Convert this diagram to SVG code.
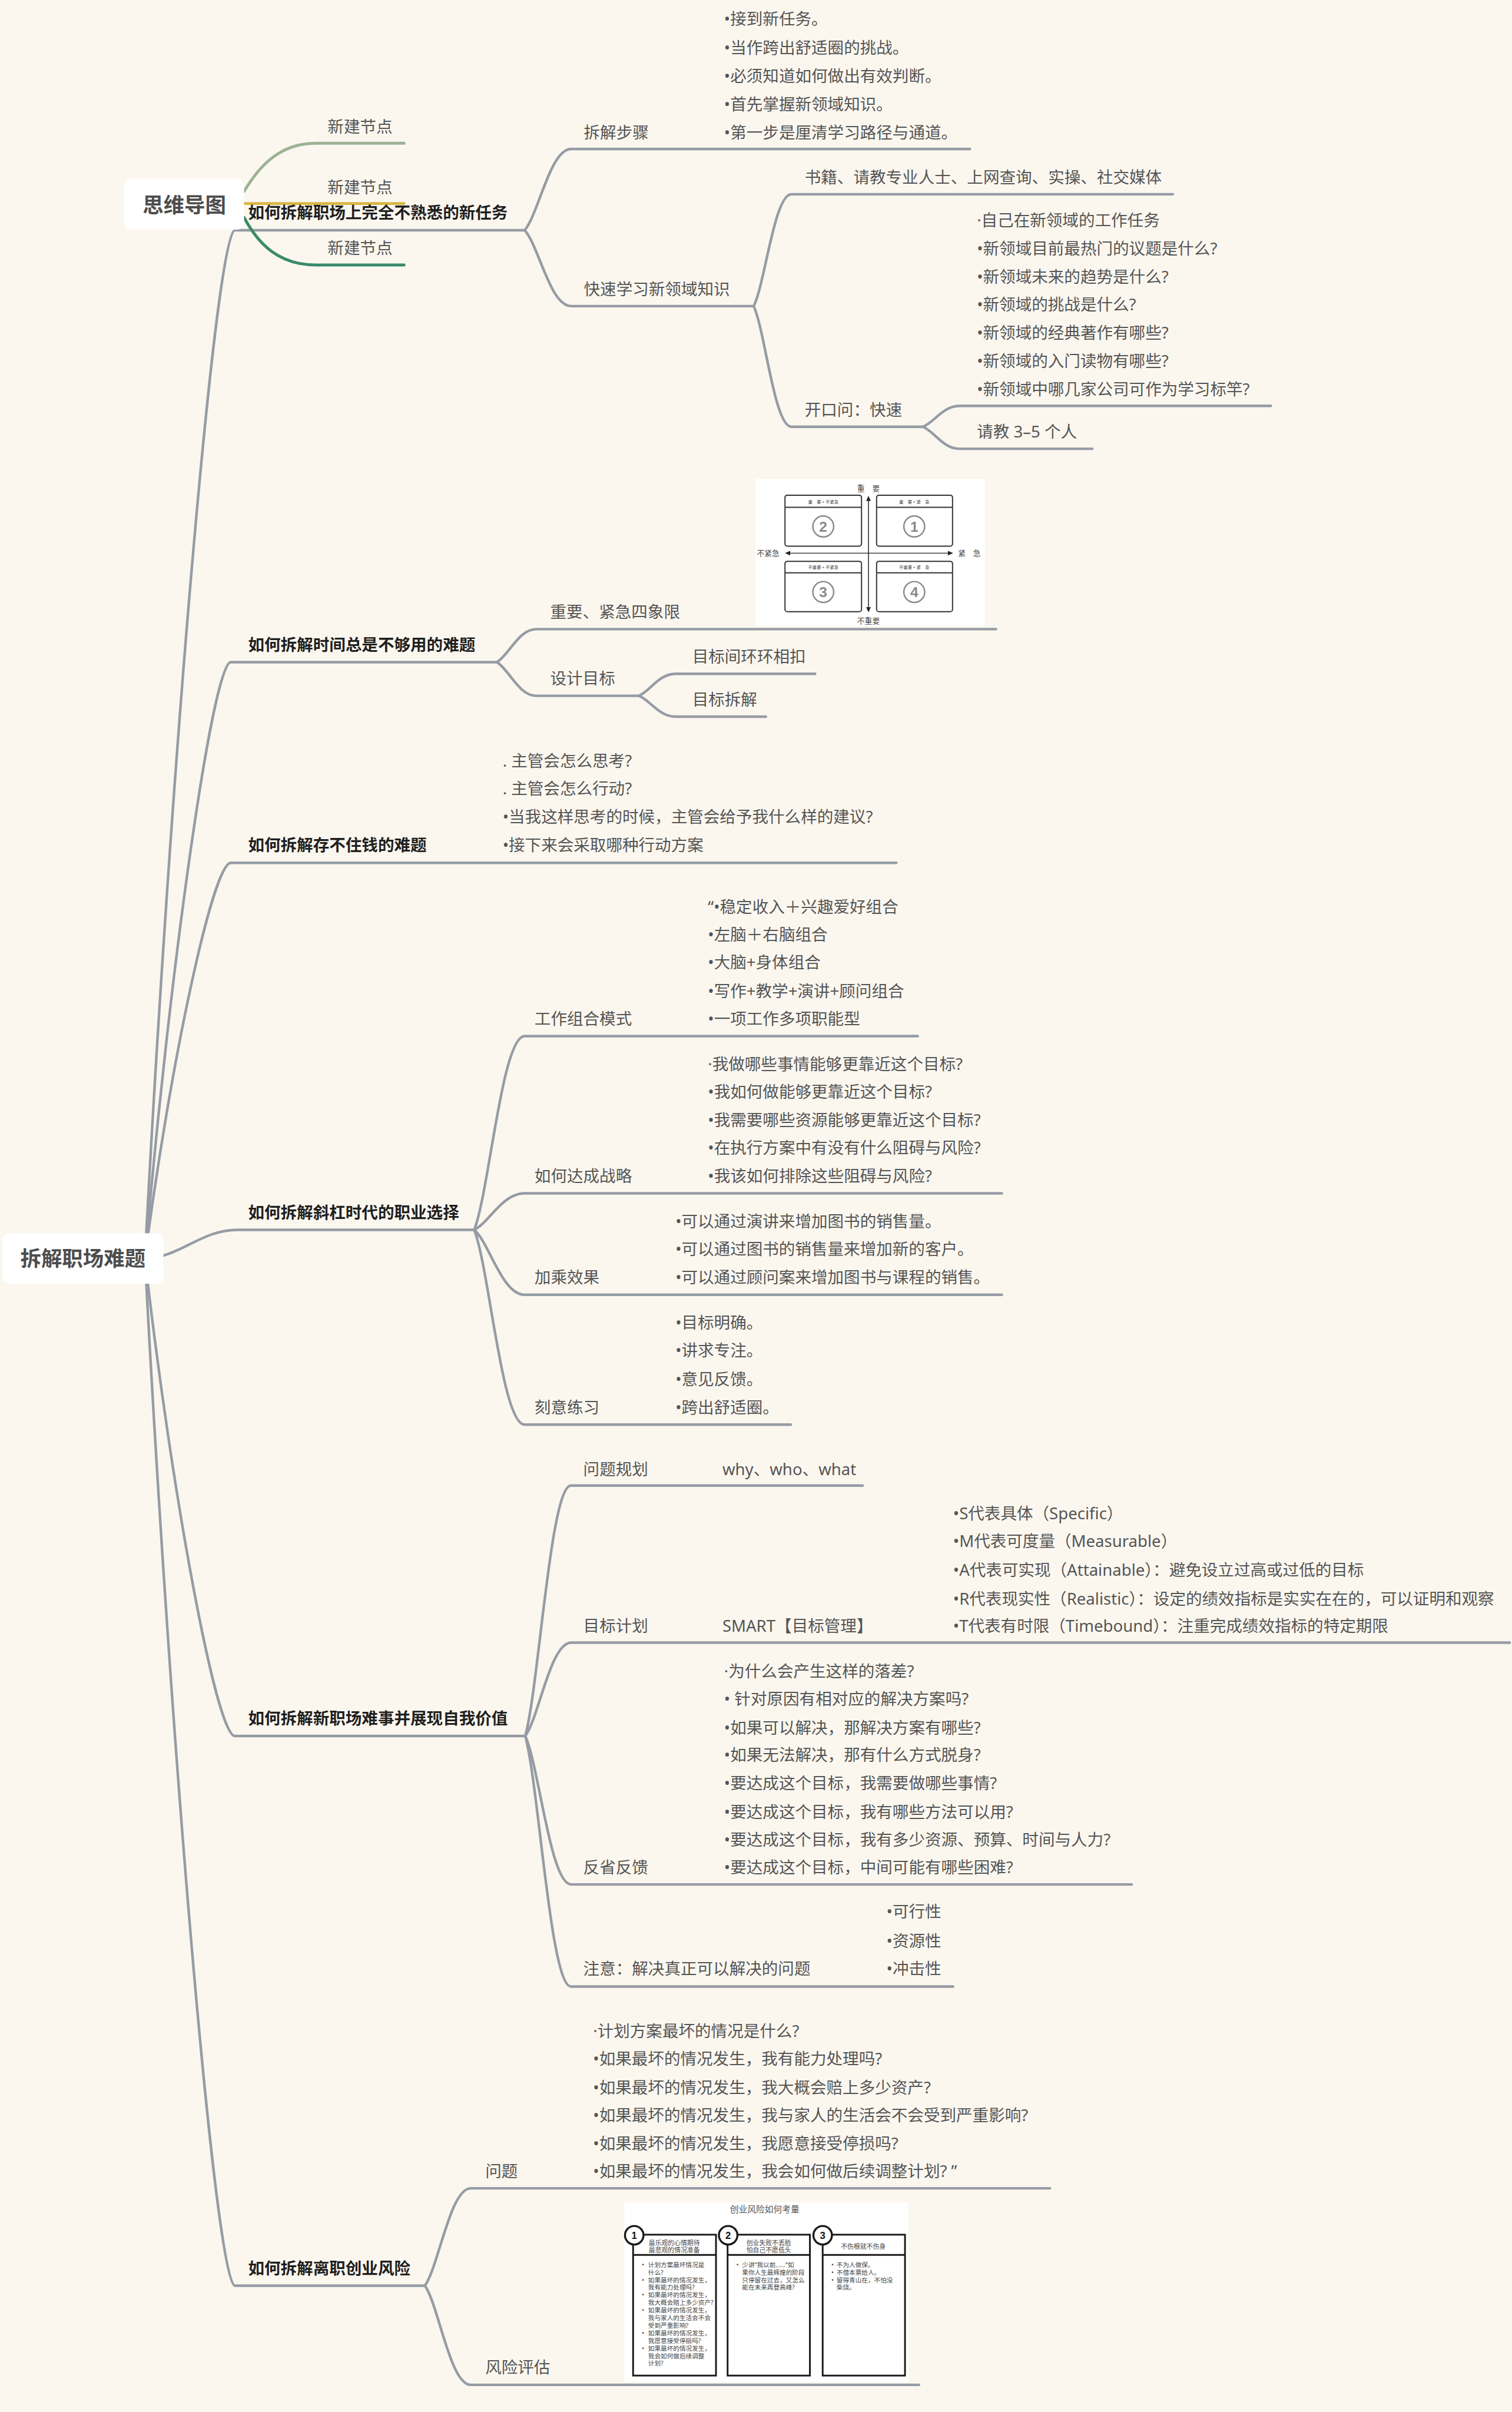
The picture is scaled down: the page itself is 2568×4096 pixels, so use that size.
<svg xmlns="http://www.w3.org/2000/svg" width="2568" height="4096" viewBox="0 0 2568 4096">
<defs>
<style>
.c{fill:none;stroke:#969ca4;stroke-width:4.5;stroke-linecap:round}
.t1{font-family:"Noto Sans","Noto Sans CJK SC",sans-serif;font-size:28px;font-weight:700;fill:#1f1f1f}
.t2{font-family:"Noto Sans","Noto Sans CJK SC",sans-serif;font-size:28px;fill:#555}
.tr{font-family:"Noto Sans","Noto Sans CJK SC",sans-serif;font-size:36px;font-weight:700;fill:#4d4d4d;text-anchor:middle}
.box{fill:#ffffff}
.img{fill:#ffffff}
.qa{font-family:"Noto Sans CJK SC",sans-serif;font-size:13px;fill:#444;text-anchor:middle}
.qh{font-family:"Noto Sans CJK SC",sans-serif;font-size:7.5px;fill:#444;text-anchor:middle}
.qb{fill:none;stroke:#333;stroke-width:2}
.qc{fill:none;stroke:#8a8a8a;stroke-width:2.5}
.qn{font-family:"Liberation Sans",sans-serif;font-size:25px;font-weight:700;fill:#8a8a8a;text-anchor:middle}
.rb{fill:none;stroke:#1a1a1a;stroke-width:3}
.rc{fill:#ffffff;stroke:#1a1a1a;stroke-width:3.5}
.rn{font-family:"Liberation Sans",sans-serif;font-size:17px;font-weight:700;fill:#111;text-anchor:middle}
.rs{font-family:"Noto Sans","Noto Sans CJK SC",sans-serif;font-size:10.8px;fill:#444}
.rh{font-family:"Noto Sans CJK SC",sans-serif;font-size:11px;fill:#444;text-anchor:middle}
.rt{font-family:"Noto Sans CJK SC",sans-serif;font-size:15px;fill:#555;text-anchor:middle}
</style>
</defs>
<rect x="0" y="0" width="2568" height="4096" fill="#fbf7ef"/>
<g transform="scale(0.98466)">

<g id="connectors">
<path class="c" d="M250,2170 C296.5,1283.5 374,397 405,397 L905,397"/>
<path class="c" d="M250,2170 C294,1656 368,1142 398,1142 L857,1142"/>
<path class="c" d="M250,2170 C294,1829 368,1488 398,1488 L1546,1488"/>
<path class="c" d="M250,2170 C310,2170 345,2121 410,2121 L818,2121"/>
<path class="c" d="M250,2170 C296.5,2582 374,2994 405,2994 L906,2994"/>
<path class="c" d="M250,2170 C296.5,3056 374,3942 405,3942 L733,3942"/>

<path class="c" d="M905,397 C929,369 949,257 985,257 L1673,257"/>
<path class="c" d="M905,397 C929,423 949,528 985,528 L1300,528"/>
<path class="c" d="M1300,528 C1319.5,489.4 1335.7,335 1365,335 L2023,335"/>
<path class="c" d="M1300,528 C1319.5,569.6 1335.7,736 1365,736 L1592,736"/>
<path class="c" d="M1592,736 C1611,728.8 1626.6,700 1655,700 L2192,700"/>
<path class="c" d="M1592,736 C1611,743.6 1626.6,774 1655,774 L1884,774"/>

<path class="c" d="M857,1142 C877.4,1130.6 894.4,1085 925,1085 L1718,1085"/>
<path class="c" d="M857,1142 C877.4,1153.6 894.4,1200 925,1200 L1102,1200"/>
<path class="c" d="M1102,1200 C1121,1192.4 1136.6,1162 1165,1162 L1406,1162"/>
<path class="c" d="M1102,1200 C1121,1207.2 1136.6,1236 1165,1236 L1321,1236"/>

<path class="c" d="M818,2121 C844.1,2054.2 865.8,1787 905,1787 L1583,1787"/>
<path class="c" d="M818,2121 C844.1,2108.4 865.8,2058 905,2058 L1728,2058"/>
<path class="c" d="M818,2121 C844.1,2143.4 865.8,2233 905,2233 L1728,2233"/>
<path class="c" d="M818,2121 C844.1,2188.2 865.8,2457 905,2457 L1364,2457"/>

<path class="c" d="M906,2994 C929.7,2907.6 949.4,2562 985,2562 L1488,2562"/>
<path class="c" d="M906,2994 C929.7,2961.8 949.4,2833 985,2833 L2604,2833"/>
<path class="c" d="M906,2994 C929.7,3045.2 949.4,3250 985,3250 L1952,3250"/>
<path class="c" d="M906,2994 C929.7,3080.4 949.4,3426 985,3426 L1644,3426"/>

<path class="c" d="M733,3942 C756.7,3908.4 776.4,3774 812,3774 L1811,3774"/>
<path class="c" d="M733,3942 C756.7,3976.2 776.4,4113 812,4113 L1585,4113"/>

<path d="M421,330 C445,290 480,247 545,247 L697,247" fill="none" stroke="#9cb294" stroke-width="5" stroke-linecap="round"/>
<path d="M421,351 L697,351" fill="none" stroke="#d8b744" stroke-width="5" stroke-linecap="round"/>
<path d="M421,375 C445,420 480,457 545,457 L697,457" fill="none" stroke="#3b8a6b" stroke-width="5" stroke-linecap="round"/>
</g>

<g id="root">
<rect class="box" x="4" y="2127" width="278" height="87" rx="12"/>
<text class="tr" x="143" y="2184">拆解职场难题</text>
</g>

<g id="mindmap-topic">
<rect class="box" x="214" y="308" width="207" height="88" rx="12"/>
<text class="tr" x="318" y="367">思维导图</text>
</g>
<g id="new-node-1"><text class="t2" x="565" y="228">新建节点</text></g>
<g id="new-node-2"><text class="t2" x="565" y="333">新建节点</text></g>
<g id="new-node-3"><text class="t2" x="565" y="438">新建节点</text></g>

<g id="b1"><text class="t1" x="428" y="377">如何拆解职场上完全不熟悉的新任务</text></g>
<g id="b1-steps">
<text class="t2" x="1007" y="239">拆解步骤</text>
<text class="t2"><tspan x="1249" y="43">•接到新任务。</tspan><tspan x="1249" y="92">•当作跨出舒适圈的挑战。</tspan><tspan x="1249" y="141">•必须知道如何做出有效判断。</tspan><tspan x="1249" y="190">•首先掌握新领域知识。</tspan><tspan x="1249" y="239">•第一步是厘清学习路径与通道。</tspan></text>
</g>
<g id="b1-learn"><text class="t2" x="1007" y="509">快速学习新领域知识</text></g>
<g id="b1-learn-channels"><text class="t2" x="1388" y="316">书籍、请教专业人士、上网查询、实操、社交媒体</text></g>
<g id="b1-learn-ask"><text class="t2" x="1388" y="717">开口问：快速</text></g>
<g id="b1-ask-questions">
<text class="t2"><tspan x="1685" y="390">·自己在新领域的工作任务</tspan><tspan x="1685" y="438.5">•新领域目前最热门的议题是什么?</tspan><tspan x="1685" y="487">•新领域未来的趋势是什么?</tspan><tspan x="1685" y="535.5">•新领域的挑战是什么?</tspan><tspan x="1685" y="584">•新领域的经典著作有哪些?</tspan><tspan x="1685" y="632.5">•新领域的入门读物有哪些?</tspan><tspan x="1685" y="681">•新领域中哪几家公司可作为学习标竿?</tspan></text>
</g>
<g id="b1-ask-people"><text class="t2" x="1685" y="755">请教 3–5 个人</text></g>

<g id="b2"><text class="t1" x="428" y="1122">如何拆解时间总是不够用的难题</text></g>
<g id="b2-quadrant">
<text class="t2" x="949" y="1065">重要、紧急四象限</text>
<rect class="img" x="1303" y="826" width="396" height="254"/>
<text class="qa" x="1498" y="847">重　要</text>
<rect class="qb" x="1354" y="854" width="132" height="88" rx="4"/>
<line class="qb" x1="1354" y1="875" x2="1486" y2="875"/>
<text class="qh" x="1420" y="868">重　要 + 不紧急</text>
<circle class="qc" cx="1420" cy="908" r="18"/><text class="qn" x="1420" y="917">2</text>
<rect class="qb" x="1512" y="854" width="131" height="88" rx="4"/>
<line class="qb" x1="1512" y1="875" x2="1643" y2="875"/>
<text class="qh" x="1577" y="868">重　要 + 紧　急</text>
<circle class="qc" cx="1577" cy="908" r="18"/><text class="qn" x="1577" y="917">1</text>
<rect class="qb" x="1354" y="968" width="132" height="87" rx="4"/>
<line class="qb" x1="1354" y1="988" x2="1486" y2="988"/>
<text class="qh" x="1420" y="981">不重要 + 不紧急</text>
<circle class="qc" cx="1420" cy="1021" r="18"/><text class="qn" x="1420" y="1030">3</text>
<rect class="qb" x="1512" y="968" width="131" height="87" rx="4"/>
<line class="qb" x1="1512" y1="988" x2="1643" y2="988"/>
<text class="qh" x="1577" y="981">不重要 + 紧　急</text>
<circle class="qc" cx="1577" cy="1021" r="18"/><text class="qn" x="1577" y="1030">4</text>
<line x1="1498" y1="862" x2="1498" y2="1049" stroke="#222" stroke-width="1.5"/>
<polygon points="1498,855 1494,864 1502,864" fill="#222"/>
<polygon points="1498,1056 1494,1047 1502,1047" fill="#222"/>
<line x1="1361" y1="954" x2="1637" y2="954" stroke="#222" stroke-width="1.5"/>
<polygon points="1354,954 1363,950 1363,958" fill="#222"/>
<polygon points="1644,954 1635,950 1635,958" fill="#222"/>
<text class="qa" x="1325" y="959">不紧急</text>
<text class="qa" x="1672" y="959">紧　急</text>
<text class="qa" x="1498" y="1076">不重要</text>
</g>
<g id="b2-goals"><text class="t2" x="949" y="1180">设计目标</text></g>
<g id="b2-goals-link"><text class="t2" x="1194" y="1143">目标间环环相扣</text></g>
<g id="b2-goals-split"><text class="t2" x="1194" y="1217">目标拆解</text></g>

<g id="b3"><text class="t1" x="428" y="1468">如何拆解存不住钱的难题</text></g>
<g id="b3-items">
<text class="t2"><tspan x="867" y="1322">. 主管会怎么思考?</tspan><tspan x="867" y="1370">. 主管会怎么行动?</tspan><tspan x="867" y="1419">•当我这样思考的时候，主管会给予我什么样的建议?</tspan><tspan x="867" y="1468">•接下来会采取哪种行动方案</tspan></text>
</g>

<g id="b4"><text class="t1" x="428" y="2101">如何拆解斜杠时代的职业选择</text></g>
<g id="b4-combo">
<text class="t2" x="922" y="1767">工作组合模式</text>
<text class="t2"><tspan x="1221" y="1574">“•稳定收入＋兴趣爱好组合</tspan><tspan x="1221" y="1622">•左脑＋右脑组合</tspan><tspan x="1221" y="1670">•大脑+身体组合</tspan><tspan x="1221" y="1719">•写作+教学+演讲+顾问组合</tspan><tspan x="1221" y="1767">•一项工作多项职能型</tspan></text>
</g>
<g id="b4-strategy">
<text class="t2" x="922" y="2038">如何达成战略</text>
<text class="t2"><tspan x="1221" y="1845">·我做哪些事情能够更靠近这个目标?</tspan><tspan x="1221" y="1893">•我如何做能够更靠近这个目标?</tspan><tspan x="1221" y="1942">•我需要哪些资源能够更靠近这个目标?</tspan><tspan x="1221" y="1990">•在执行方案中有没有什么阻碍与风险?</tspan><tspan x="1221" y="2038">•我该如何排除这些阻碍与风险?</tspan></text>
</g>
<g id="b4-multiply">
<text class="t2" x="922" y="2213">加乘效果</text>
<text class="t2"><tspan x="1165" y="2116">•可以通过演讲来增加图书的销售量。</tspan><tspan x="1165" y="2164">•可以通过图书的销售量来增加新的客户。</tspan><tspan x="1165" y="2213">•可以通过顾问案来增加图书与课程的销售。</tspan></text>
</g>
<g id="b4-practice">
<text class="t2" x="922" y="2437">刻意练习</text>
<text class="t2"><tspan x="1165" y="2291">•目标明确。</tspan><tspan x="1165" y="2339">•讲求专注。</tspan><tspan x="1165" y="2389">•意见反馈。</tspan><tspan x="1165" y="2437">•跨出舒适圈。</tspan></text>
</g>

<g id="b5"><text class="t1" x="428" y="2974">如何拆解新职场难事并展现自我价值</text></g>
<g id="b5-plan">
<text class="t2" x="1006" y="2544">问题规划</text>
<text class="t2" x="1246" y="2544">why、who、what</text>
</g>
<g id="b5-goal">
<text class="t2" x="1006" y="2814">目标计划</text>
<text class="t2" x="1246" y="2814">SMART【目标管理】</text>
<text class="t2"><tspan x="1644" y="2620">•S代表具体（Specific）</tspan><tspan x="1644" y="2668">•M代表可度量（Measurable）</tspan><tspan x="1644" y="2718">•A代表可实现（Attainable）：避免设立过高或过低的目标</tspan><tspan x="1644" y="2767">•R代表现实性（Realistic）：设定的绩效指标是实实在在的，可以证明和观察</tspan><tspan x="1644" y="2814">•T代表有时限（Timebound）：注重完成绩效指标的特定期限</tspan></text>
</g>
<g id="b5-reflect">
<text class="t2" x="1006" y="3231">反省反馈</text>
<text class="t2"><tspan x="1249" y="2892">·为什么会产生这样的落差?</tspan><tspan x="1249" y="2940">• 针对原因有相对应的解决方案吗?</tspan><tspan x="1249" y="2990">•如果可以解决，那解决方案有哪些?</tspan><tspan x="1249" y="3037">•如果无法解决，那有什么方式脱身?</tspan><tspan x="1249" y="3085">•要达成这个目标，我需要做哪些事情?</tspan><tspan x="1249" y="3135">•要达成这个目标，我有哪些方法可以用?</tspan><tspan x="1249" y="3183">•要达成这个目标，我有多少资源、预算、时间与人力?</tspan><tspan x="1249" y="3231">•要达成这个目标，中间可能有哪些困难?</tspan></text>
</g>
<g id="b5-note">
<text class="t2" x="1006" y="3405">注意：解决真正可以解决的问题</text>
<text class="t2"><tspan x="1529" y="3307">•可行性</tspan><tspan x="1529" y="3357">•资源性</tspan><tspan x="1529" y="3405">•冲击性</tspan></text>
</g>

<g id="b6"><text class="t1" x="428" y="3922">如何拆解离职创业风险</text></g>
<g id="b6-questions">
<text class="t2" x="837" y="3755">问题</text>
<text class="t2"><tspan x="1023" y="3513">·计划方案最坏的情况是什么?</tspan><tspan x="1023" y="3561">•如果最坏的情况发生，我有能力处理吗?</tspan><tspan x="1023" y="3610">•如果最坏的情况发生，我大概会赔上多少资产?</tspan><tspan x="1023" y="3658">•如果最坏的情况发生，我与家人的生活会不会受到严重影响?</tspan><tspan x="1023" y="3707">•如果最坏的情况发生，我愿意接受停损吗?</tspan><tspan x="1023" y="3755">•如果最坏的情况发生，我会如何做后续调整计划? ”</tspan></text>
</g>
<g id="b6-risk">
<text class="t2" x="837" y="4093">风险评估</text>
<rect class="img" x="1077" y="3798" width="490" height="310"/>
<text class="rt" x="1319" y="3816">创业风险如何考量</text>
<rect class="rb" x="1092" y="3854" width="143" height="243"/>
<line class="rb" x1="1092" y1="3889" x2="1235" y2="3889"/>
<rect class="rb" x="1255" y="3854" width="142" height="243"/>
<line class="rb" x1="1255" y1="3889" x2="1397" y2="3889"/>
<rect class="rb" x="1419" y="3854" width="142" height="243"/>
<line class="rb" x1="1419" y1="3889" x2="1561" y2="3889"/>
<circle class="rc" cx="1094" cy="3855" r="16"/><text class="rn" x="1094" y="3861">1</text>
<circle class="rc" cx="1256" cy="3855" r="16"/><text class="rn" x="1256" y="3861">2</text>
<circle class="rc" cx="1419" cy="3855" r="16"/><text class="rn" x="1419" y="3861">3</text>
<text class="rh"><tspan x="1163" y="3872">最乐观的心情期待</tspan><tspan x="1163" y="3885">最悲观的情况准备</tspan></text>
<text class="rh"><tspan x="1326" y="3872">创业失败不丢脸</tspan><tspan x="1326" y="3885">怕自己不愿低头</tspan></text>
<text class="rh" x="1489" y="3878">不伤根就不伤身</text>
<text class="rs"><tspan x="1107" y="3910">•</tspan><tspan x="1107" y="3936">•</tspan><tspan x="1107" y="3962">•</tspan><tspan x="1107" y="3988">•</tspan><tspan x="1107" y="4028">•</tspan><tspan x="1107" y="4054">•</tspan></text>
<text class="rs"><tspan x="1118" y="3910">计划方案最坏情况是</tspan><tspan x="1118" y="3923">什么?</tspan><tspan x="1118" y="3936">如果最坏的情况发生，</tspan><tspan x="1118" y="3949">我有能力处理吗?</tspan><tspan x="1118" y="3962">如果最坏的情况发生，</tspan><tspan x="1118" y="3975">我大概会赔上多少资产?</tspan><tspan x="1118" y="3988">如果最坏的情况发生，</tspan><tspan x="1118" y="4001">我与家人的生活会不会</tspan><tspan x="1118" y="4015">受到严重影响?</tspan><tspan x="1118" y="4028">如果最坏的情况发生，</tspan><tspan x="1118" y="4041">我愿意接受停损吗?</tspan><tspan x="1118" y="4054">如果最坏的情况发生，</tspan><tspan x="1118" y="4067">我会如何做后续调整</tspan><tspan x="1118" y="4080">计划?</tspan></text>
<text class="rs" x="1270" y="3910">•</text>
<text class="rs"><tspan x="1280" y="3910">少讲“我以前……”如</tspan><tspan x="1280" y="3923">果你人生最辉煌的阶段</tspan><tspan x="1280" y="3936">只停留在过去，又怎么</tspan><tspan x="1280" y="3949">能在未来再登高峰?</tspan></text>
<text class="rs"><tspan x="1434" y="3910">•</tspan><tspan x="1434" y="3923">•</tspan><tspan x="1434" y="3936">•</tspan></text>
<text class="rs"><tspan x="1443" y="3910">不为人做保。</tspan><tspan x="1443" y="3923">不借本票给人。</tspan><tspan x="1443" y="3936">留得青山在，不怕没</tspan><tspan x="1443" y="3949">柴烧。</tspan></text>
</g>

</g>
</svg>
